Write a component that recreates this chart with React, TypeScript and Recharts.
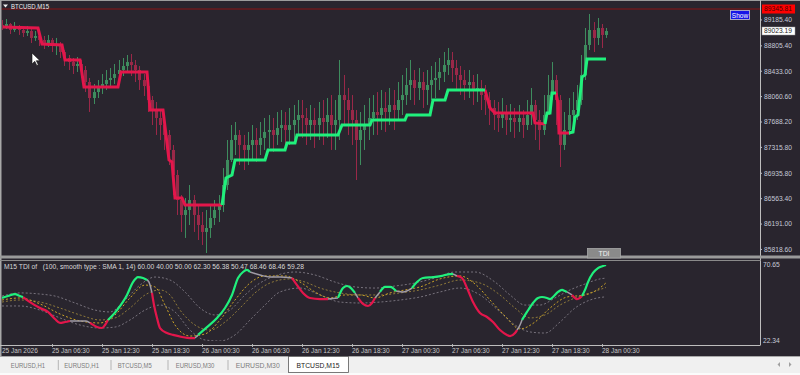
import React from "react";
import { ComposedChart, Bar, Line, XAxis, YAxis, ReferenceLine } from "recharts";

const FONT = "'Liberation Sans', Arial, sans-serif";

// ---- price candles (one candle per half hour, hours since 25 Jan 00:30) ----
const candleHours = 0.5;
const opens = [89111,89082,89126,89038,89082,89038,88994,89023,88921,88950,
88891,88847,88891,88803,88833,88715,88627,88568,88510,88539,
88451,88275,88040,88128,88187,88246,88304,88334,88392,88451,
88510,88568,88524,88451,88304,88216,88011,87864,87747,87644,
87498,87278,86911,86544,86324,86397,86544,86324,86177,86075,
86133,86280,86397,86471,86764,87131,87424,87498,87351,87278,
87351,87424,87351,87454,87542,87571,87498,87600,87644,87571,
87644,87718,87791,87747,87644,87718,87644,87747,87688,87791,
87644,87718,88084,88011,87864,87718,87424,87571,87644,87747,
87835,87791,87894,87835,87938,87864,88011,88084,88231,88304,
88187,88275,88158,88231,88304,88334,88422,88524,88598,88480,
88378,88304,88231,88275,88158,88187,88084,88011,87894,87791,
87747,87835,87718,87747,87688,87747,87644,87791,87938,87718,
87571,87791,88084,88304,88011,87351,87571,87791,87864,88011,
88378,88818,89038,88921,89067,88965];
const highs = [89185,89199,89141,89155,89111,89082,89097,89053,89023,88994,
88950,88965,88921,88921,88862,88744,88671,88627,88642,88598,
88510,88334,88246,88304,88392,88451,88480,88539,88598,88627,
88671,88686,88598,88510,88392,88246,88070,87982,87864,87747,
87571,87351,86984,86617,86573,86764,86617,86471,86368,86397,
86471,86544,86617,87013,87424,87644,87688,87571,87498,87542,
87644,87600,87688,87747,87791,87747,87835,87864,87835,87894,
87938,88011,88011,87894,87938,87894,87982,88011,88040,88084,
88011,88598,88378,88187,88084,87864,87835,87938,88040,88084,
88128,88158,88128,88187,88158,88275,88378,88480,88598,88451,
88480,88422,88451,88510,88568,88627,88715,88774,88715,88598,
88510,88451,88451,88378,88392,88304,88231,88128,88011,87982,
88040,87938,87952,87894,87938,87864,88011,88187,88011,87864,
88084,88378,88568,88378,88084,87835,88040,88128,88231,88671,
89067,89273,89155,89214,89126,89067];
const lows = [89038,89053,88979,89009,88965,88935,88950,88847,88877,88803,
88759,88788,88715,88671,88627,88510,88451,88392,88422,88334,
88128,87835,87952,88040,88099,88158,88187,88246,88304,88363,
88422,88363,88275,88158,88070,87835,87644,87498,87424,87278,
87057,86617,86324,86075,85987,86177,86075,85957,85884,85766,
85987,86177,86221,86368,86691,87101,87204,87057,86984,87057,
87131,87101,87204,87278,87307,87248,87351,87395,87278,87351,
87424,87498,87454,87351,87424,87307,87424,87351,87454,87278,
87278,87424,87644,87498,87351,86837,87057,87278,87424,87498,
87498,87571,87542,87644,87571,87718,87791,87938,88011,87938,
88011,87894,87938,88011,88040,88158,88275,88378,88275,88158,
88084,88011,88040,87938,87982,87864,87791,87644,87571,87542,
87600,87498,87542,87454,87542,87454,87571,87644,87424,87278,
87498,87791,88011,87644,87028,87278,87498,87600,87718,87938,
88304,88744,88715,88818,88774,88921];
const closes = [89082,89126,89038,89082,89038,88994,89023,88921,88950,88891,
88847,88891,88803,88833,88715,88627,88568,88510,88539,88451,
88275,88040,88128,88187,88246,88304,88334,88392,88451,88510,
88568,88524,88451,88304,88216,88011,87864,87747,87644,87498,
87278,86911,86544,86324,86397,86544,86324,86177,86075,86133,
86280,86397,86471,86764,87131,87424,87498,87351,87278,87351,
87424,87351,87454,87542,87571,87498,87600,87644,87571,87644,
87718,87791,87747,87644,87718,87644,87747,87688,87791,87644,
87718,88084,88011,87864,87718,87424,87571,87644,87747,87835,
87791,87894,87835,87938,87864,88011,88084,88231,88304,88187,
88275,88158,88231,88304,88334,88422,88524,88598,88480,88378,
88304,88231,88275,88158,88187,88084,88011,87894,87791,87747,
87835,87718,87747,87688,87747,87644,87791,87938,87718,87571,
87791,88084,88304,88011,87351,87571,87791,87864,88011,88378,
88818,89038,88921,89067,88965,89023];

// ---- step trend line on price pane: [hours, price] ----
const stepRed = [
  [[0.12,89082],[4.32,89067],[4.8,88833],[7.2,88818],[7.56,88598],[9.36,88598],[9.84,88202],[13.92,88202],[14.28,88422],[17.4,88422],[17.76,87864],[19.32,87864],[20.04,87131],[20.4,87101],[20.76,86573],[21.6,86573],[21.96,86471],[26.4,86471]],
  [[57.96,88158],[58.56,87894],[59.16,87820],[63.72,87820],[63.96,87674],[65.16,87659]],
  [[66.48,88114],[66.72,87967],[66.84,87527],[68.04,87527]],
];
const stepGreen = [
  [[26.4,86471],[26.88,86867],[27.6,86911],[27.96,87131],[31.56,87131],[31.92,87278],[33.96,87278],[34.2,87380],[35.16,87380],[35.4,87498],[40.32,87498],[40.8,87644],[44.16,87644],[44.4,87718],[48.36,87718],[48.6,87791],[51.36,87791],[51.72,88011],[53.16,88011],[53.52,88158],[57.96,88158]],
  [[65.16,87659],[65.4,87820],[65.76,87820],[66.0,88114],[66.48,88114]],
  [[68.04,87527],[68.52,87542],[68.76,87762],[69.12,87791],[69.6,88348],[69.96,88378],[70.2,88612],[72.48,88612]],
];

// ---- TDI sub pane: [hours, value] ----
const tdiGreen = [
  [[0,49.7],[0.72,50.9],[1.56,52.2],[2.16,50.9],[2.52,50.3]],
  [[12.72,35.7],[13.8,42.0],[15.0,51.6],[15.72,59.8],[16.32,63.0],[16.92,62.4],[17.4,61.1]],
  [[23.52,26.2],[24.6,31.2],[25.8,37.0],[26.76,43.3],[27.6,51.6],[28.32,62.4],[28.92,66.2],[29.4,67.5],[29.76,66.2]],
  [[40.32,49.7],[40.92,56.0],[41.4,57.3],[41.88,56.0],[42.36,52.9]],
  [[45.36,53.5],[45.96,56.7],[46.56,56.7],[46.92,56.0],[47.28,54.1]],
  [[49.2,56.0],[49.8,59.8],[50.52,62.4],[51.72,63.0],[52.8,63.7],[53.76,64.9],[54.12,64.9]],
  [[62.4,35.7],[63.0,40.8],[63.72,46.5],[64.32,49.7],[64.8,50.3],[65.4,49.7],[65.76,49.0],[66.12,50.3],[66.72,53.5],[67.2,54.8],[67.56,54.1],[67.8,53.5]],
  [[69.6,50.9],[69.96,54.8],[70.32,59.8],[70.92,65.6],[71.52,68.7],[72.12,70.0],[72.48,70.65]],
];
const tdiRed = [
  [[2.52,50.3],[3.36,47.1],[4.56,43.3],[5.52,40.8],[6.36,36.3],[6.96,33.8],[7.56,34.4],[8.16,35.1]],
  [[10.56,33.8],[11.4,31.2],[12.0,30.6],[12.36,32.5],[12.72,35.7]],
  [[18.0,52.9],[18.24,45.2],[18.6,37.0],[18.96,30.6],[19.8,27.4],[20.52,26.2],[21.6,24.9],[22.56,24.2],[23.16,24.2]],
  [[34.8,62.4],[35.4,57.9],[36.12,52.9],[36.96,49.7],[38.16,49.0],[39.12,49.0]],
  [[42.72,49.7],[43.32,45.9],[43.92,44.6],[44.4,46.5],[44.76,49.7]],
  [[54.6,63.7],[55.2,62.4],[55.8,56.0],[56.52,47.1],[57.36,40.1],[58.2,37.6],[58.92,34.4],[59.76,29.3],[60.6,26.2],[60.96,25.5],[61.56,27.4],[61.8,29.3]],
  [[68.4,51.6],[69.0,49.0],[69.36,49.7],[69.6,50.9]],
];
const tdiGray = [
  [[8.16,35.1],[9.12,35.1],[10.08,35.1],[10.56,33.8]],
  [[17.4,61.1],[17.64,59.8],[18.0,52.9]],
  [[23.16,24.2],[23.52,26.2]],
  [[29.76,66.2],[30.96,64.3],[32.16,63.0],[33.36,63.0],[34.8,62.4]],
  [[39.12,49.0],[40.32,49.7]],
  [[42.36,52.9],[42.72,49.7]],
  [[44.76,49.7],[45.36,53.5]],
  [[47.28,54.1],[48.12,53.5],[49.2,56.0]],
  [[54.12,64.9],[54.6,63.7]],
  [[61.8,29.3],[62.16,32.5],[62.4,35.7]],
  [[67.8,53.5],[68.4,51.6]],
];
const tdiSignal = [[0,48.4],[2.16,49.7],[4.56,45.9],[6.96,39.5],[9.36,35.1],[11.76,33.8],[13.56,38.9],[15.36,49.7],[17.16,57.9],[18.36,56.7],[19.56,45.2],[20.76,32.5],[22.56,25.5],[24.36,26.8],[26.16,35.7],[27.96,48.4],[29.76,59.2],[31.56,63.7],[33.96,63.7],[35.76,59.8],[37.56,53.5],[39.36,49.7],[41.16,51.6],[42.96,51.6],[44.76,49.7],[46.56,52.9],[48.36,54.8],[50.16,56.7],[52.56,61.8],[54.96,63.7],[56.76,58.6],[58.56,48.4],[60.36,38.2],[62.16,30.0],[63.96,34.4],[65.76,43.3],[67.8,50.3],[69.96,51.6],[71.4,54.8],[72.48,59.28]];
const tdiMid = [[0,47.1],[2.16,48.4],[4.56,47.1],[6.96,43.3],[9.36,38.9],[11.76,35.7],[13.56,37.0],[15.36,43.3],[17.16,51.6],[18.96,54.8],[20.16,51.6],[21.36,42.0],[23.16,32.5],[24.96,29.3],[26.76,34.4],[28.56,43.3],[30.36,52.9],[32.16,59.2],[34.56,61.8],[36.36,59.8],[38.16,56.0],[40.56,52.9],[42.96,51.6],[45.36,51.6],[47.76,52.9],[50.16,54.8],[52.56,57.9],[54.96,61.1],[57.36,59.2],[59.76,51.6],[61.56,43.3],[63.36,37.0],[65.16,38.9],[66.96,45.2],[68.76,49.7],[70.56,52.9],[72.48,56.38]];
const tdiUpper = [[0,50.9],[2.16,52.9],[4.56,52.2],[6.36,50.9],[8.76,46.5],[11.16,42.0],[12.96,40.8],[14.76,48.4],[16.56,57.9],[18.36,63.0],[20.16,61.1],[21.96,53.5],[23.76,43.3],[25.56,38.9],[27.36,42.0],[29.16,51.6],[30.96,59.2],[32.76,63.7],[35.16,66.2],[37.56,64.3],[39.96,59.8],[42.36,56.7],[44.76,56.0],[47.16,57.3],[49.56,59.2],[51.96,62.4],[54.36,66.2],[56.76,66.2],[59.16,59.8],[60.96,51.6],[62.76,45.2],[64.56,45.2],[66.36,49.7],[68.16,54.8],[69.96,58.6],[71.76,61.8],[72.48,62.3]];
const tdiLower = [[0,44.6],[2.16,44.6],[4.56,42.0],[6.96,37.0],[9.36,32.5],[11.76,30.6],[13.56,31.2],[15.36,35.7],[17.16,42.0],[18.96,45.2],[20.76,40.8],[22.56,29.3],[24.36,23.0],[26.16,22.34],[27.96,26.2],[29.76,35.7],[31.56,45.2],[33.36,53.5],[35.76,56.0],[38.16,51.6],[40.56,47.1],[42.96,46.5],[45.36,47.1],[47.76,48.4],[50.16,50.3],[52.56,53.5],[54.96,56.0],[57.36,51.6],[59.76,40.8],[61.56,32.5],[63.36,28.1],[65.16,27.4],[66.96,34.4],[68.76,43.3],[70.56,48.4],[72.48,50.47]];

// ---- axes / text ----
const priceTicks = [89345.81, 89185.4, 89023.19, 88805.4, 88433.0, 88060.6, 87688.2, 87315.8, 86935.8, 86563.4, 86191.0, 85818.6];
const askPrice = 89345.81;
const bidPrice = 89023.19;
const priceDomain = [85693, 89478];
const tdiTicks = [70.65, 22.34];
const timeTicks = [0, 6, 12, 18, 24, 30, 36, 42, 48, 54, 60, 66, 72];
const timeLabels = ["25 Jan 2026", "25 Jan 06:30", "25 Jan 12:30", "25 Jan 18:30", "26 Jan 00:30", "26 Jan 06:30", "26 Jan 12:30", "26 Jan 18:30", "27 Jan 00:30", "27 Jan 06:30", "27 Jan 12:30", "27 Jan 18:30", "28 Jan 00:30"];
const xDomain = [0, 90.96];
const chartTitle = "BTCUSD,M15";
const tdiTitle = "M15 TDI of   (100, smooth type : SMA 1, 14) 60.00 40.00 50.00 62.30 56.38 50.47 68.46 68.46 59.28";
const tabs = ["EURUSD,H1", "EURUSD,H1", "BTCUSD,M5", "EURUSD,M30", "EURUSD,M30"];
const activeTab = "BTCUSD,M15";

const BG = "#29252e";
const UP = "#3e8c5e";
const DOWN = "#9a2848";
const LINE_RED = "#e3164b";
const LINE_GREEN = "#20f07c";

const candles = closes.map((c, i) => ({
  t: i * candleHours,
  o: opens[i],
  h: highs[i],
  l: lows[i],
  c,
  range: [lows[i], highs[i]],
}));

function toSeries(segs: number[][][], key: string) {
  const out: any[] = [];
  segs.forEach((seg, k) => {
    if (k > 0) out.push({ t: seg[0][0], [key]: null });
    seg.forEach(([t, v]) => out.push({ t, [key]: v }));
  });
  return out;
}
const pts = (arr: number[][]) => arr.map(([t, v]) => ({ t, v }));

function CandleShape(props: any) {
  const { x, y, width, height, payload } = props;
  if (!payload || x == null || y == null) return null;
  const top = Math.min(y, y + height);
  const bottom = Math.max(y, y + height);
  const span = payload.h - payload.l || 1;
  const toY = (p: number) => top + ((payload.h - p) / span) * (bottom - top);
  const cx = Math.round(x + width / 2) + 0.5;
  const color = payload.c >= payload.o ? UP : DOWN;
  const yo = toY(payload.o);
  const yc = toY(payload.c);
  const bt = Math.min(yo, yc);
  const bh = Math.max(1, Math.abs(yo - yc));
  return (
    <g>
      <line x1={cx} x2={cx} y1={top} y2={bottom} stroke={color} strokeWidth={1} />
      <rect x={cx - 1.5} y={bt} width={3} height={bh} fill={color} />
    </g>
  );
}

function PriceTick(props: any) {
  const { x, y, payload } = props;
  const v = payload.value as number;
  const label = v.toFixed(2);
  if (v === askPrice) {
    return (
      <g>
        <rect x={x - 2} y={y - 4.5} width={33} height={9} fill="#ff0000" />
        <text x={x} y={y + 2.4} fontSize={6.7} fill="#4a0000" fontFamily={FONT}>{label}</text>
      </g>
    );
  }
  if (v === bidPrice) {
    return (
      <g>
        <rect x={x - 2} y={y - 4} width={33} height={8} fill="#ffffff" stroke="#9a9a9a" strokeWidth={0.5} />
        <text x={x} y={y + 2.4} fontSize={6.7} fill="#222" fontFamily={FONT}>{label}</text>
      </g>
    );
  }
  return (
    <g>
      <line x1={x - 4} x2={x - 2} y1={y} y2={y} stroke="#b8bccc" />
      <text x={x} y={y + 2.4} fontSize={6.7} fill="#c6cad8" fontFamily={FONT}>{label}</text>
    </g>
  );
}

function TdiTick(props: any) {
  const { x, y, payload } = props;
  return (
    <text x={x - 1} y={y + 2.4} fontSize={6.7} fill="#c6cad8" fontFamily={FONT}>
      {(payload.value as number).toFixed(2)}
    </text>
  );
}

function TimeTick(props: any) {
  const { x, y, payload } = props;
  const idx = timeTicks.indexOf(payload.value);
  return (
    <g>
      {idx > 0 && <line x1={x + 0.5} x2={x + 0.5} y1={y - 1} y2={y + 2} stroke="#b0b0b0" />}
      <text x={x} y={y + 8} fontSize={6.5} fill="#c8c8c8" fontFamily={FONT}>{timeLabels[idx]}</text>
    </g>
  );
}

export default function App() {
  const tabPos = [
    { x: 10.7, w: 34.3 },
    { x: 64.3, w: 34.7 },
    { x: 117.7, w: 34 },
    { x: 175.7, w: 38.6 },
    { x: 235.7, w: 44 },
  ];
  const seps = [58.3, 111, 168, 228];
  return (
    <div style={{ position: "absolute", left: 0, top: 0, width: 800, height: 375, background: BG, overflow: "hidden" }}>
      <div style={{ position: "absolute", left: 0, top: 0 }}>
        <ComposedChart width={800} height={258} data={candles} margin={{ top: 0, right: 0, left: 2, bottom: 0 }}>
          <XAxis type="number" dataKey="t" domain={xDomain} allowDataOverflow hide />
          <YAxis
            orientation="right"
            type="number"
            domain={priceDomain}
            allowDataOverflow
            ticks={priceTicks}
            interval={0}
            width={40}
            axisLine={false}
            tickLine={false}
            tickSize={2}
            tickMargin={2}
            tick={<PriceTick />}
          />
          <ReferenceLine y={askPrice} stroke="#8a1414" strokeWidth={1} ifOverflow="extendDomain" />
          <Bar dataKey="range" shape={<CandleShape />} barSize={3} isAnimationActive={false} />
          <Line data={toSeries(stepRed, "p")} dataKey="p" type="linear" stroke={LINE_RED} strokeWidth={3} dot={false} activeDot={false} isAnimationActive={false} connectNulls={false} />
          <Line data={toSeries(stepGreen, "p")} dataKey="p" type="linear" stroke={LINE_GREEN} strokeWidth={3} dot={false} activeDot={false} isAnimationActive={false} connectNulls={false} />
        </ComposedChart>
      </div>
      <div style={{ position: "absolute", left: 0, top: 260 }}>
        <ComposedChart width={800} height={100} data={pts(tdiSignal)} margin={{ top: 5, right: 0, left: 2, bottom: 0 }}>
          <XAxis
            type="number"
            dataKey="t"
            domain={xDomain}
            allowDataOverflow
            ticks={timeTicks}
            interval={0}
            height={19}
            axisLine={false}
            tickLine={false}
            tickSize={4}
            tickMargin={0}
            tick={<TimeTick />}
          />
          <YAxis
            orientation="right"
            type="number"
            domain={[22.34, 70.65]}
            allowDataOverflow
            ticks={tdiTicks}
            interval={0}
            width={40}
            axisLine={false}
            tickLine={false}
            tickSize={2}
            tickMargin={2}
            tick={<TdiTick />}
          />
          <Line data={pts(tdiUpper)} dataKey="v" type="monotone" stroke="#77727c" strokeWidth={1} strokeDasharray="2 2" dot={false} activeDot={false} isAnimationActive={false} />
          <Line data={pts(tdiLower)} dataKey="v" type="monotone" stroke="#77727c" strokeWidth={1} strokeDasharray="2 2" dot={false} activeDot={false} isAnimationActive={false} />
          <Line data={pts(tdiMid)} dataKey="v" type="monotone" stroke="#8f7a3a" strokeWidth={1} strokeDasharray="2 2" dot={false} activeDot={false} isAnimationActive={false} />
          <Line data={pts(tdiSignal)} dataKey="v" type="monotone" stroke="#c9a227" strokeWidth={1} strokeDasharray="2 2" dot={false} activeDot={false} isAnimationActive={false} />
          <Line data={toSeries(tdiGray, "v")} dataKey="v" type="monotone" stroke="#a09ca6" strokeWidth={1.5} dot={false} activeDot={false} isAnimationActive={false} connectNulls={false} />
          <Line data={toSeries(tdiRed, "v")} dataKey="v" type="monotone" stroke={LINE_RED} strokeWidth={2.2} dot={false} activeDot={false} isAnimationActive={false} connectNulls={false} />
          <Line data={toSeries(tdiGreen, "v")} dataKey="v" type="monotone" stroke={LINE_GREEN} strokeWidth={2.2} dot={false} activeDot={false} isAnimationActive={false} connectNulls={false} />
        </ComposedChart>
      </div>
      <svg width={800} height={375} style={{ position: "absolute", left: 0, top: 0, pointerEvents: "none" }}>
        {/* frame */}
        <rect x={0} y={0} width={800} height={1} fill="#9c9c9c" />
        <rect x={0} y={0} width={1.5} height={356} fill="#a8a8a8" />
        <line x1={760.5} x2={760.5} y1={0} y2={345} stroke="#bdbdbd" />
        <rect x={0} y={255.5} width={800} height={3} fill="#9a9a9a" />
        <line x1={0} x2={760.5} y1={260.5} y2={260.5} stroke="#8a8a8a" />
        <line x1={0} x2={760.5} y1={345.5} y2={345.5} stroke="#bdbdbd" />
        {/* title */}
        <polygon points="3,4.5 8,4.5 5.5,7.5" fill="#f0f0f0" />
        <text x={11} y={8.5} fontSize={6.8} fill="#eeeeee" fontFamily={FONT} textLength={38} lengthAdjust="spacingAndGlyphs">{chartTitle}</text>
        {/* Show button */}
        <rect x={730.5} y={10.5} width={19} height={9} fill="#1616e6" stroke="#c8c8d8" strokeWidth={0.8} />
        <text x={740} y={17.5} fontSize={6.5} fill="#ffffff" fontFamily={FONT} textAnchor="middle">Show</text>
        {/* TDI button */}
        <rect x={587.5} y={248.5} width={33} height={9.5} fill="#8a8a8a" stroke="#a9a9a9" strokeWidth={0.8} />
        <text x={604} y={256} fontSize={6.8} fill="#f2f2f2" fontFamily={FONT} textAnchor="middle">TDI</text>
        {/* cursor */}
        <polygon points="32,53 32,64 34.8,61.3 36.8,65.5 38.3,64.8 36.3,60.7 40,60.7" fill="#ffffff" stroke="#111" strokeWidth={0.6} />
        {/* sub pane title */}
        <text x={4} y={268.5} fontSize={6.5} fill="#d8d8d8" fontFamily={FONT} textLength={300} lengthAdjust="spacingAndGlyphs" style={{ whiteSpace: "pre" }}>{tdiTitle}</text>
        {/* tab bar */}
        <rect x={0} y={356} width={800} height={19} fill="#f0f0f0" />
        <line x1={0} x2={800} y1={356.5} y2={356.5} stroke="#a8a8a8" />
        <rect x={0} y={373} width={800} height={2} fill="#fbfbfb" />
        {tabs.map((t, i) => (
          <text key={i} x={tabPos[i].x} y={367.8} fontSize={7.4} fill="#7c7c7c" fontFamily={FONT} textLength={tabPos[i].w} lengthAdjust="spacingAndGlyphs">{t}</text>
        ))}
        {seps.map((s, i) => (
          <line key={i} x1={s} x2={s} y1={360} y2={370} stroke="#b4b4b4" />
        ))}
        <rect x={288.5} y={356.5} width={60} height={16} fill="#ffffff" stroke="#5a5a5a" strokeWidth={0.8} />
        <text x={296.5} y={367.8} fontSize={7.4} fill="#222" fontFamily={FONT} textLength={43} lengthAdjust="spacingAndGlyphs">{activeTab}</text>
        <polygon points="780,362 780,367 777.5,364.5" fill="#a0a0a0" />
        <polygon points="789,362 789,367 791.5,364.5" fill="#a0a0a0" />
      </svg>
    </div>
  );
}
